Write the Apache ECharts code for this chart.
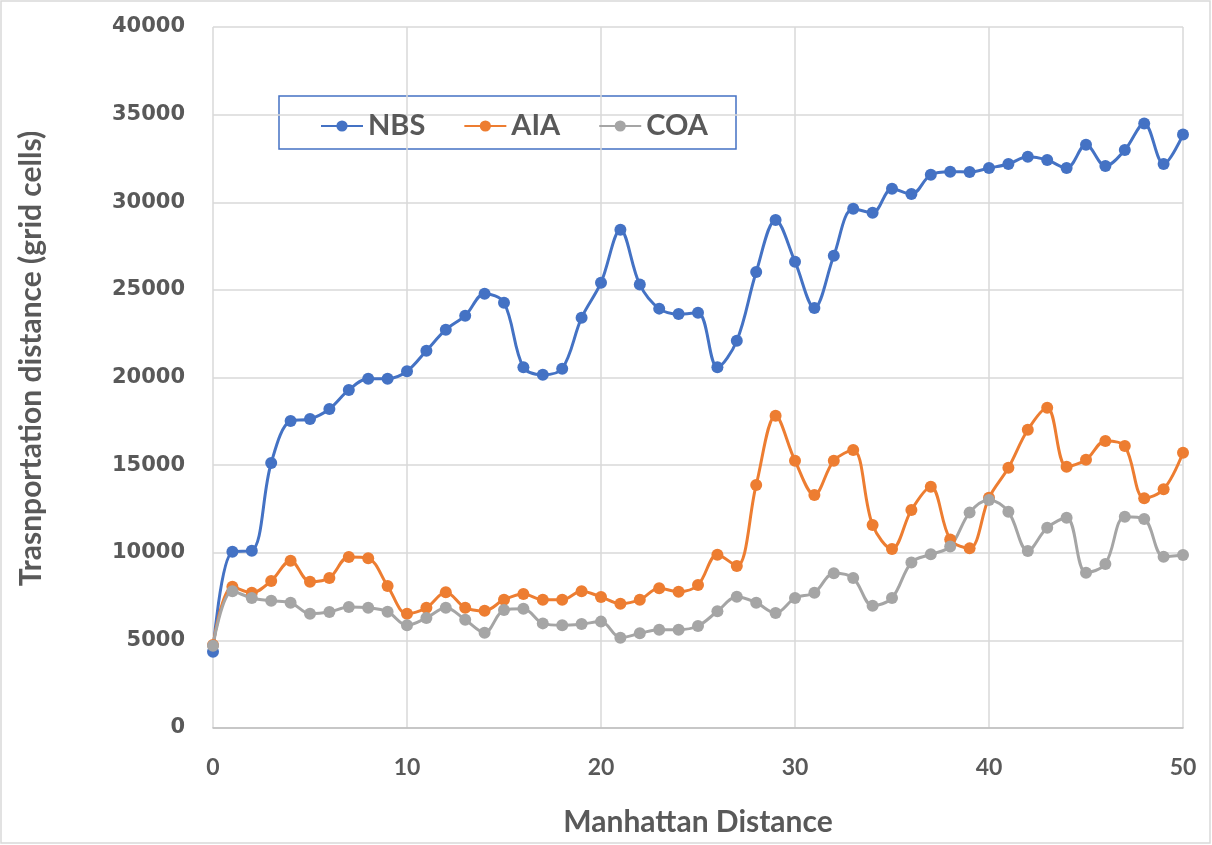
<!DOCTYPE html>
<html>
<head>
<meta charset="utf-8">
<script src="https://cdn.jsdelivr.net/npm/echarts@6/dist/echarts.min.js"></script>
<style>html,body{margin:0;padding:0;background:#fff;}#c{width:1212px;height:845px;}</style>
</head>
<body>
<div id="c"></div>
<script>
const distances = [0,1,2,3,4,5,6,7,8,9,10,11,12,13,14,15,16,17,18,19,20,21,22,23,24,25,26,27,28,29,30,31,32,33,34,35,36,37,38,39,40,41,42,43,44,45,46,47,48,49,50];
const nbs = [4350,10060,10120,15120,17520,17630,18200,19290,19930,19930,20360,21530,22730,23530,24780,24270,20580,20160,20500,23410,25410,28430,25300,23930,23620,23700,20580,22100,26020,28990,26610,23970,26950,29630,29400,30770,30470,31570,31740,31730,31950,32180,32600,32410,31950,33280,32070,32980,34500,32180,33860];
const aia = [4740,8060,7720,8390,9550,8350,8560,9760,9680,8100,6520,6860,7740,6860,6690,7320,7650,7320,7320,7800,7480,7090,7320,7970,7780,8160,9890,9240,13870,17820,15250,13300,15250,15860,11580,10210,12440,13770,10760,10250,13140,14850,17020,18280,14910,15310,16380,16090,13110,13620,15710];
const coa = [4700,7800,7420,7260,7150,6520,6620,6900,6860,6640,5860,6280,6860,6180,5440,6730,6810,5970,5860,5930,6070,5150,5400,5610,5610,5820,6660,7490,7150,6560,7420,7720,8830,8560,6980,7420,9450,9910,10350,12290,13010,12340,10100,11430,12000,8860,9360,12060,11930,9770,9870];
const seriesNames = ['NBS','AIA','COA'];
const seriesColors = ['#4472C4','#ED7D31','#A5A5A5'];
const yTicks = [0,5000,10000,15000,20000,25000,30000,35000,40000];
const xTicks = [0,10,20,30,40,50];

const pairs = vals => distances.map((d,i)=>[d, vals[i]]);
const allVals = [nbs, aia, coa];

const chart = echarts.init(document.getElementById('c'), null, {renderer:'canvas'});
chart.setOption({
  animation:false,
  backgroundColor:'#fff',
  color: seriesColors,
  grid:{left:213, right:29, top:27, bottom:117},
  legend:{
    data: seriesNames,
    left:315, top:106,
    itemGap:38, itemWidth:42, itemHeight:14,
    textStyle:{fontFamily:'Lato', fontWeight:'bold', fontSize:29, color:'#595959', lineHeight:30}
  },
  graphic:[
    {type:'rect', shape:{x:1, y:1, width:1209, height:842}, style:{fill:'none', stroke:'#d9d9d9', lineWidth:1.5}, silent:true},
    {type:'rect', shape:{x:279, y:96, width:457, height:53}, style:{fill:'none', stroke:'#4472C4', lineWidth:1.5}, silent:true}
  ],
  xAxis:{
    type:'value', min:xTicks[0], max:xTicks[xTicks.length-1], interval:10,
    name:'Manhattan Distance', nameLocation:'middle', nameGap:79,
    nameTextStyle:{fontFamily:'Lato', fontWeight:'bold', fontSize:30, color:'#595959'},
    axisLine:{show:true, lineStyle:{color:'#bfbfbf', width:1.5}},
    axisTick:{show:false},
    axisLabel:{margin:28, fontFamily:'Lato', fontWeight:'bold', fontSize:23, color:'#595959'},
    splitLine:{show:true, lineStyle:{color:'#d9d9d9', width:1.5}}
  },
  yAxis:{
    type:'value', min:yTicks[0], max:yTicks[yTicks.length-1], interval:5000,
    name:'Trasnportation distance (grid cells)', nameLocation:'middle', nameGap:167,
    nameTextStyle:{fontFamily:'Lato', fontWeight:'bold', fontSize:30, color:'#595959', padding:[0,0,0,38]},
    axisLine:{show:false},
    axisTick:{show:false},
    axisLabel:{margin:28, fontFamily:'DejaVu Sans', fontWeight:'bold', fontSize:21, color:'#595959', formatter: v => String(v)},
    splitLine:{show:true, lineStyle:{color:'#d9d9d9', width:1.5}}
  },
  series: seriesNames.map((n,i)=>({
    name:n, type:'line', data:pairs(allVals[i]),
    smooth:0.35, symbol:'circle', symbolSize:12,
    lineStyle:{width:3, color:seriesColors[i]},
    itemStyle:{color:seriesColors[i]}
  }))
});
</script>
</body>
</html>
